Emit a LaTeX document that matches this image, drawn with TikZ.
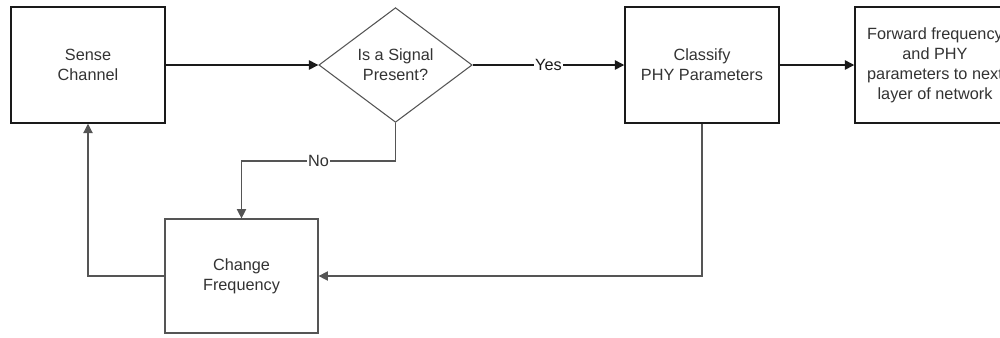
\documentclass[tikz,border=0pt]{standalone}
\usepackage{fontspec}
\setmainfont{Liberation Sans}
\usetikzlibrary{shapes.geometric,arrows.meta}
\definecolor{ink}{HTML}{333333}
\definecolor{edge}{HTML}{1A1A1A}
\definecolor{soft}{HTML}{555555}
\begin{document}
\begin{tikzpicture}[x=0.75pt,y=-0.75pt,
  every node/.style={font=\fontsize{12.2pt}{15pt}\selectfont, text=ink, align=center},
  blockbox/.style={draw=edge, line width=1.1pt, fill=white, minimum width=115.5pt, minimum height=87pt, inner sep=0pt},
  decision/.style={draw=soft, line width=0.8pt, diamond, fill=white, minimum width=115pt, minimum height=86pt, inner sep=0pt},
  flow/.style={draw=edge, line width=1.1pt, -{Triangle[length=7pt,width=7pt]}},
  thinflow/.style={draw=soft, line width=0.8pt, -{Triangle[length=7pt,width=7pt]}},
  tag/.style={fill=white, inner sep=1pt}]
\useasboundingbox (0,0) rectangle (1000,337);
\clip (0,0) rectangle (1000,337);

% blocks
\node[blockbox] (sense) at (88,65) {Sense\\Channel};
\node[decision] (signal) at (395.5,65) {Is a Signal\\Present?};
\node[blockbox] (classify) at (702,65) {Classify\\PHY Parameters};
\node[blockbox, minimum width=120pt] (forward) at (935,65) {Forward frequency\\and PHY\\parameters to next\\layer of network};
\node[blockbox, draw=soft, line width=0.9pt, minimum width=114.75pt, minimum height=85.5pt] (change) at (241.5,276) {Change\\Frequency};

% connectors
\draw[flow] (sense.east) -- (signal.west);
\draw[flow] (signal.east) -- node[tag, text=edge] {Yes} (classify.west);
\draw[flow] (classify.east) -- (forward.west);
\draw[thinflow] (signal.south) |- node[tag, pos=0.75] {No} (change.north |- 0,161) -- (change.north);
\draw[thinflow] (classify.south) |- (change.east);
\draw[thinflow] (change.west) -| (sense.south);
\end{tikzpicture}
\end{document}
